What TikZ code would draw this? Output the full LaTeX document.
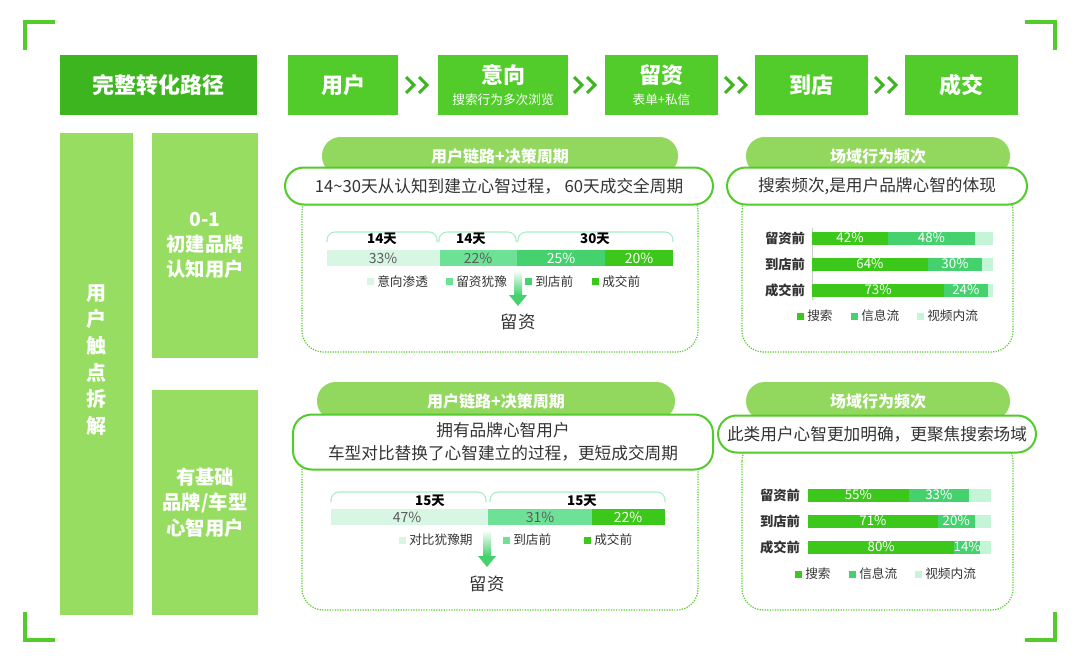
\documentclass[tikz,border=0pt]{standalone}
\usepackage{fontspec}
\setmainfont{Noto Sans CJK SC}
\definecolor{dkG}{HTML}{3DB51E}
\definecolor{mG}{HTML}{52CC2A}
\definecolor{lG}{HTML}{96DD62}
\definecolor{pillG}{HTML}{92D85E}
\definecolor{txt}{HTML}{333333}
\definecolor{c1}{HTML}{D8F6E4}
\definecolor{c2}{HTML}{6DE296}
\definecolor{c3}{HTML}{45D26E}
\definecolor{c4}{HTML}{3CC81A}
\definecolor{c5}{HTML}{C3F5D6}
\definecolor{brk}{HTML}{A8EFC8}
\tikzset{
 hbox/.style={fill=mG,text=white,font=\fontsize{16.5}{19}\selectfont\bfseries,align=center,inner sep=0},
 pill/.style={fill=pillG,rounded corners=14pt,text=white,font=\fontsize{12}{14}\selectfont\bfseries},
 caps/.style={draw=mG,line width=1.5pt,fill=white,rounded corners=14pt,text=txt,font=\fontsize{12.5}{15}\selectfont,align=center},
 dotbox/.style={draw=mG,densely dotted,line width=0.9pt,rounded corners=16pt},
 pct/.style={font=\fontsize{10.5}{12}\selectfont,inner sep=0},
 leg/.style={font=\fontsize{9.5}{11}\selectfont,text=txt,inner sep=0,anchor=west},
 rowlab/.style={font=\fontsize{10}{11}\selectfont\bfseries,text=txt,inner sep=0},
 days/.style={font=\fontsize{10}{12}\selectfont\bfseries,inner sep=0},
 corner/.style={draw=mG,line width=3pt},
 chev/.style={draw=dkG,line width=2.2pt},
}
\begin{document}
\begin{tikzpicture}[x=0.75pt,y=-0.75pt]
\useasboundingbox (0,0) rectangle (1080,664);
\fill[white] (0,0) rectangle (1080,664);
% corners
\draw[corner] (55,22)--(25,22)--(25,50);
\draw[corner] (1025,22)--(1055,22)--(1055,50);
\draw[corner] (25,612)--(25,640)--(55,640);
\draw[corner] (1055,612)--(1055,640)--(1025,640);
% top row
\node[hbox,fill=dkG,minimum width=197*0.75pt,minimum height=60*0.75pt] (h0) at (158.5,85) {完整转化路径};
\node[hbox,minimum width=110*0.75pt,minimum height=60*0.75pt] (h1) at (343,85) {用户};
\node[hbox,minimum width=130*0.75pt,minimum height=60*0.75pt] (h2) at (503,85) {};
\node[text=white,font=\fontsize{16.5}{19}\selectfont\bfseries] (h2a) at (503,75) {意向};
\node[text=white,font=\fontsize{9.5}{11}\selectfont] (h2b) at (503,100) {搜索行为多次浏览};
\node[hbox,minimum width=113*0.75pt,minimum height=60*0.75pt] (h3) at (661.5,85) {};
\node[text=white,font=\fontsize{16.5}{19}\selectfont\bfseries] (h3a) at (661.5,75) {留资};
\node[text=white,font=\fontsize{9.5}{11}\selectfont] (h3b) at (661.5,100) {表单+私信};
\node[hbox,minimum width=113*0.75pt,minimum height=60*0.75pt] (h4) at (811.5,85) {到店};
\node[hbox,minimum width=113*0.75pt,minimum height=60*0.75pt] (h5) at (961.5,85) {成交};
\foreach \cx in {418,586,737,887}{
 \draw[chev] (\cx-12,77)--(\cx-4,85)--(\cx-12,93);
 \draw[chev] (\cx+1,77)--(\cx+9,85)--(\cx+1,93);
}
% left column
\node[fill=lG,minimum width=73*0.75pt,minimum height=482*0.75pt,inner sep=0] (lc) at (96.5,374) {};
\node[text=white,font=\fontsize{15}{20}\selectfont\bfseries,align=center] (lct) at (96.5,360) {用\\户\\触\\点\\拆\\解};
\node[fill=lG,minimum width=106*0.75pt,minimum height=225*0.75pt,inner sep=0,text=white,align=center,font=\fontsize{14.5}{19}\selectfont\bfseries] (u1) at (205,245.5) {0-1\\初建品牌\\认知用户};
\node[fill=lG,minimum width=106*0.75pt,minimum height=225*0.75pt,inner sep=0,text=white,align=center,font=\fontsize{14.5}{19}\selectfont\bfseries] (u2) at (205,502.5) {有基础\\品牌/车型\\心智用户};

% ===== panel 1
\draw[dotbox] (302,190) rectangle (698,352);
\node[pill,minimum width=356*0.75pt,minimum height=38*0.75pt] (p1) at (500,156) {用户链路+决策周期};
\node[caps,minimum width=428*0.75pt,minimum height=37*0.75pt] (c1box) at (499,186) {14\textasciitilde30天从认知到建立心智过程， 60天成交全周期};
\foreach \a/\b in {327/437,439/516,518/673}{
 \draw[brk,line width=0.8pt,rounded corners=6pt] (\a,242)--(\a,232)--(\b,232)--(\b,242);}
\node[days] (d1) at (382,239) {14天};
\node[days] (d2) at (471,239) {14天};
\node[days] (d3) at (595,239) {30天};
\fill[c1] (327,250) rectangle (440,266); \fill[c2] (440,250) rectangle (517,266);
\fill[c3] (517,250) rectangle (605,266); \fill[c4] (605,250) rectangle (673,266);
\node[pct,text=txt!80] (v1) at (383,258) {33\%};
\node[pct,text=txt!80] (v2) at (478,258) {22\%};
\node[pct,text=white] (v3) at (561,258) {25\%};
\node[pct,text=white] (v4) at (639,258) {20\%};
\shade[top color=white,bottom color=c3] (514,270) rectangle (522,295);
\fill[c3] (509,295)--(527,295)--(518,306)--cycle;
\node[font=\fontsize{13}{15}\selectfont,text=txt] (r1) at (518,322) {留资};
\fill[c1] (367,278) rectangle (374,285); \node[leg] (l1) at (377,282) {意向渗透};
\fill[c2] (446,278) rectangle (453,285); \node[leg] (l2) at (456,282) {留资犹豫};
\fill[c3] (525,278) rectangle (532,285); \node[leg] (l3) at (535,282) {到店前};
\fill[c4] (592,278) rectangle (599,285); \node[leg] (l4) at (602,282) {成交前};

% ===== panel 2
\draw[dotbox] (742,190) rectangle (1013,352);
\node[pill,minimum width=264*0.75pt,minimum height=38*0.75pt] (p2) at (878,156) {场域行为频次};
\node[caps,minimum width=300*0.75pt,minimum height=37*0.75pt] (c2box) at (877,186) {搜索频次,是用户品牌心智的体现};
\draw[black!20,line width=0.6pt] (812,228)--(812,300);
\foreach \y/\la/\a/\b/\n in {238/留资前/42/48/q1,264/到店前/64/30/q2,290/成交前/73/24/q3}{
 \pgfmathsetmacro\xa{812+1.81*\a}\pgfmathsetmacro\xb{\xa+1.81*\b}
 \fill[c4] (812,\y-6.5) rectangle (\xa,\y+6.5);
 \fill[c3] (\xa,\y-6.5) rectangle (\xb,\y+6.5);
 \fill[c5] (\xb,\y-6.5) rectangle (993,\y+6.5);
 \node[pct,text=white,font=\fontsize{10}{11}\selectfont] at ({(812+\xa)/2},\y) {\a\%};
 \node[pct,text=white,font=\fontsize{10}{11}\selectfont] at ({(\xa+\xb)/2},\y) {\b\%};
 \node[rowlab] (\n) at (785,\y) {\la};
}
\fill[c4] (797,313) rectangle (804,320); \node[leg] (m1) at (807,316) {搜索};
\fill[c3] (851,313) rectangle (858,320); \node[leg] (m2) at (861,316) {信息流};
\fill[c5] (917,313) rectangle (924,320); \node[leg] (m3) at (927,316) {视频内流};

% ===== panel 3
\draw[dotbox] (302,440) rectangle (698,610);
\node[pill,minimum width=358*0.75pt,minimum height=38*0.75pt] (p3) at (496,401) {用户链路+决策周期};
\node[caps,minimum width=420*0.75pt,minimum height=55*0.75pt,font=\fontsize{12.5}{17}\selectfont] (c3box) at (503,442) {拥有品牌心智用户\\车型对比替换了心智建立的过程，更短成交周期};
\foreach \a/\b in {331/486,490/665}{
 \draw[brk,line width=0.8pt,rounded corners=6pt] (\a,502)--(\a,492)--(\b,492)--(\b,502);}
\node[days] (e1) at (430,501) {15天};
\node[days] (e2) at (582,501) {15天};
\fill[c1] (331,509) rectangle (488,525); \fill[c2] (488,509) rectangle (592,525);
\fill[c4] (592,509) rectangle (665,525);
\node[pct,text=txt!80] (w1) at (407,517) {47\%};
\node[pct,text=txt!80] (w2) at (540,517) {31\%};
\node[pct,text=white] (w3) at (628,517) {22\%};
\shade[top color=white,bottom color=c3] (483,530) rectangle (491,556);
\fill[c3] (478,556)--(496,556)--(487,567)--cycle;
\node[font=\fontsize{13}{15}\selectfont,text=txt] (r2) at (487,584) {留资};
\fill[c1] (399,537) rectangle (406,544); \node[leg] (n1) at (409,540) {对比犹豫期};
\fill[c2] (503,537) rectangle (510,544); \node[leg] (n2) at (513,540) {到店前};
\fill[c4] (584,537) rectangle (591,544); \node[leg] (n3) at (594,540) {成交前};

% ===== panel 4
\draw[dotbox] (742,440) rectangle (1013,610);
\node[pill,minimum width=264*0.75pt,minimum height=38*0.75pt] (p4) at (878,401) {场域行为频次};
\node[caps,minimum width=318*0.75pt,minimum height=37*0.75pt] (c4box) at (877,434) {此类用户心智更加明确，更聚焦搜索场域};
\foreach \y/\la/\a/\b/\n in {495/留资前/55/33/s1,521/到店前/71/20/s2,547/成交前/80/14/s3}{
 \pgfmathsetmacro\xa{808+1.83*\a}\pgfmathsetmacro\xb{\xa+1.83*\b}
 \fill[c4] (808,\y-6.5) rectangle (\xa,\y+6.5);
 \fill[c3] (\xa,\y-6.5) rectangle (\xb,\y+6.5);
 \fill[c5] (\xb,\y-6.5) rectangle (991,\y+6.5);
 \node[pct,text=white,font=\fontsize{10}{11}\selectfont] at ({(808+\xa)/2},\y) {\a\%};
 \node[pct,text=white,font=\fontsize{10}{11}\selectfont] at ({(\xa+\xb)/2},\y) {\b\%};
 \node[rowlab] (\n) at (780,\y) {\la};
}
\fill[c4] (795,571) rectangle (802,578); \node[leg] (o1) at (805,574) {搜索};
\fill[c3] (849,571) rectangle (856,578); \node[leg] (o2) at (859,574) {信息流};
\fill[c5] (915,571) rectangle (922,578); \node[leg] (o3) at (925,574) {视频内流};
\end{tikzpicture}
\end{document}
